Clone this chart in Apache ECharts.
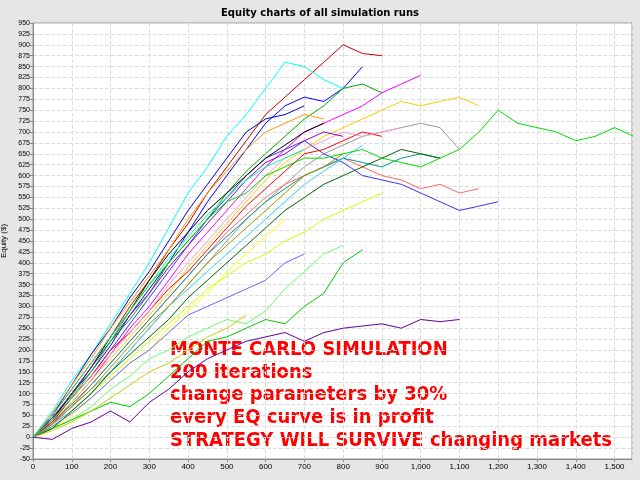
<!DOCTYPE html>
<html>
<head>
<meta charset="utf-8">
<script src="https://cdn.jsdelivr.net/npm/echarts@6/dist/echarts.min.js"></script>
<style>html,body{margin:0;padding:0;background:#e6e6e6}#c{width:640px;height:480px}</style>
</head>
<body>
<div id="c"></div>
<script>
// equity curves, sampled every 50 trades (x = index * 50)
const STEP = 50;
const runs = [
  { color: '#cc0000', y: [0,50,110,170,230,300,360,430,490,560,620,680,740,780,820,860,900,880,875] },
  { color: '#0000ff', y: [0,40,100,150,210,280,340,400,470,540,600,660,720,760,780,770,800,850] },
  { color: '#00ffff', y: [0,60,130,190,260,330,400,480,560,620,690,740,800,860,850,820,800] },
  { color: '#00aa00', y: [0,45,95,160,220,270,330,400,450,500,560,610,650,690,730,760,800,810,790] },
  { color: '#ff00ff', y: [0,30,80,130,190,250,300,360,420,470,520,570,620,660,700,720,740,760,790,810,830] },
  { color: '#ffcc00', y: [0,35,80,130,180,230,280,330,390,440,490,540,590,630,660,690,710,730,750,770,760,770,780,760] },
  { color: '#999999', y: [0,30,70,110,150,200,250,300,350,400,450,500,540,580,620,650,670,690,700,710,720,710,660] },
  { color: '#3333ff', y: [0,40,90,140,200,260,320,380,440,500,550,600,640,660,680,650,630,600,590,580,560,540,520,530,540] },
  { color: '#ff6666', y: [0,30,70,120,170,220,270,320,370,420,470,510,550,580,600,620,640,620,600,590,570,580,560,570] },
  { color: '#009999', y: [0,35,75,120,170,220,270,320,370,420,460,500,540,570,600,620,640,630,620,640,650,640] },
  { color: '#000000', y: [0,40,100,160,230,290,360,420,470,520,560,600,640,670,700,720] },
  { color: '#ffff00', y: [0,20,50,90,130,170,200,250,290,330,380,420,460,500] },
  { color: '#66ff66', y: [0,20,40,70,110,140,180,200,230,250,270,260,290,340,380,420,440] },
  { color: '#00cc00', y: [0,20,40,60,80,70,100,140,180,220,230,250,270,260,300,330,400,430] },
  { color: '#ccff00', y: [0,25,60,100,140,180,220,260,300,340,370,400,420,450,470,500,520,540,560] },
  { color: '#0000cc', y: [0,50,120,190,250,320,380,450,520,580,640,700,730,740,760] },
  { color: '#33ccff', y: [0,30,60,100,150,200,250,300,340,380,420,460,500,540,580,610,640,670] },
  { color: '#ff0000', y: [0,35,90,140,200,240,290,340,380,430,480,530,570,610,650,660,680,700,690] },
  { color: '#ff99cc', y: [0,40,90,140,190,240,290,350,400,450,500,550,600,640,660,680,700,690,700,710] },
  { color: '#999900', y: [0,30,70,110,160,210,260,300,350,400,440,480,520,560,600,620,650] },
  { color: '#9900cc', y: [0,45,100,160,220,280,330,390,440,490,540,590,630,650,680,700,690] },
  { color: '#006600', y: [0,20,60,100,150,190,230,270,320,360,400,440,480,520,550,580,600,620,640,660,650,640] },
  { color: '#6666ff', y: [0,25,55,90,130,170,200,240,280,300,320,340,360,400,420] },
  { color: '#cccc00', y: [0,15,35,60,90,120,150,170,200,230,250,280] },
  { color: '#ff9900', y: [0,55,120,180,250,310,370,430,500,560,610,660,700,720,740,730] },
  { color: '#00ff99', y: [0,50,110,170,230,290,350,410,460,510,550,590,620,640,660] },
  { color: '#00dd00', y: [0,40,90,150,220,290,350,400,450,500,540,560,600,620,640,640,650,660,640,630,620,640,660,700,750,720,710,700,680,690,710,690,670,685] },
  { color: '#660099', y: [0,-5,20,35,60,35,80,110,150,180,200,220,230,240,220,240,250,255,260,250,270,265,270] }
];
const xTicks = { min: 0, max: 1545, interval: 100 };
const yTicks = { min: -50, max: 950, interval: 25 };
const notes = [
  'MONTE CARLO SIMULATION',
  '200 iterations',
  'change parameters by 30%',
  'every EQ curve is in profit',
  'STRATEGY WILL SURVIVE changing markets'
];

const chart = echarts.init(document.getElementById('c'));
chart.setOption({
  animation: false,
  backgroundColor: '#e6e6e6',
  title: { text: 'Equity charts of all simulation runs', left: 'center', top: 3,
    textStyle: { fontSize: 10, fontWeight: 'bold', color: '#000', fontFamily: 'DejaVu Sans' } },
  grid: { left: 33, right: 8, top: 23, bottom: 21, outerBoundsMode: 'none',
    backgroundColor: '#fff', show: true, borderColor: '#999' },
  xAxis: {
    type: 'value', min: xTicks.min, max: xTicks.max, interval: xTicks.interval,
    axisLine: { onZero: false, lineStyle: { color: '#888' } },
    axisTick: { length: 3 },
    axisLabel: { fontSize: 8, color: '#000', margin: 4,
      formatter: v => v.toLocaleString('en-US'), showMaxLabel: false },
    splitLine: { lineStyle: { color: '#ddd', type: 'dashed' } }
  },
  yAxis: {
    type: 'value', min: yTicks.min, max: yTicks.max, interval: yTicks.interval,
    name: 'Equity ($)', nameLocation: 'middle', nameGap: 21, nameRotate: 90,
    nameTextStyle: { fontSize: 8, color: '#000' },
    axisLine: { show: true, onZero: false, lineStyle: { color: '#888' } },
    axisTick: { show: true, length: 3 },
    axisLabel: { fontSize: 7, color: '#000', margin: 3 },
    splitLine: { lineStyle: { color: '#ddd', type: 'dashed' } }
  },
  series: runs.map(r => ({
    type: 'line', showSymbol: false, silent: true,
    lineStyle: { width: 1, color: r.color }, itemStyle: { color: r.color },
    data: r.y.map((v, i) => [i * STEP, v])
  })),
  graphic: notes.map((t, i) => ({
    type: 'text', left: 170, top: 340 + i * 22.6,
    style: { text: t, fill: '#ff0000', font: 'bold 20px "DejaVu Sans Condensed"' }
  }))
});
</script>
</body>
</html>
